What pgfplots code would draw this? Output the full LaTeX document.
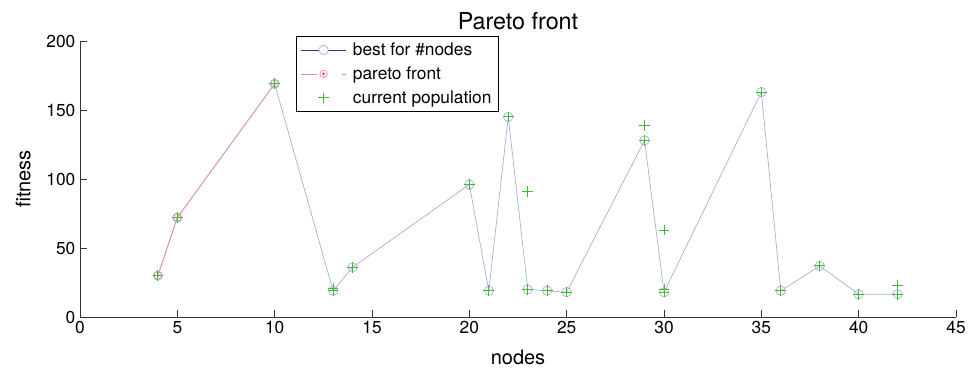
\documentclass[border=0pt]{standalone}
\usepackage{fontspec}
\setmainfont{TeX Gyre Heros}
\usepackage{pgfplots}
\pgfplotsset{compat=1.18}
\definecolor{bestc}{RGB}{165,170,220}
\definecolor{bestdark}{RGB}{40,50,140}
\definecolor{parc}{RGB}{230,140,150}
\definecolor{pardot}{RGB}{220,20,20}
\definecolor{popc}{RGB}{60,190,40}
\definecolor{axc}{RGB}{50,50,50}
\begin{document}
\begin{tikzpicture}[x=1pt,y=1pt]
\path[use as bounding box] (-60,-39.75) rectangle (673.5,237.75);
\begin{axis}[
  at={(0,0)}, anchor=south west,
  scale only axis, width=657pt, height=207pt,
  xmin=0, xmax=45, ymin=0, ymax=200,
  xtick={0,5,...,45}, ytick={0,50,...,200},
  axis x line*=bottom, axis y line*=left,
  axis line style={draw=axc, line width=0.6pt, -},
  tick align=inside, major tick length=5pt,
  tick style={draw=axc, line width=0.6pt},
  /pgf/number format/assume math mode=true,
  ticklabel style={font=\fontsize{13}{15}\selectfont},
  xlabel={nodes}, ylabel={fitness},
  label style={font=\fontsize{15}{18}\selectfont},
  xlabel style={yshift=-5pt},
  ylabel style={yshift=5pt},
  title={Pareto front},
  title style={font=\fontsize{17.5}{20}\selectfont, yshift=-1pt},
  legend style={at={(0.2466,1.018)}, anchor=north west, draw=black, line width=0.8pt,
    font=\fontsize{13}{16}\selectfont, row sep=3pt, inner xsep=3pt, inner ysep=2.5pt,
    cells={anchor=west}},
  legend cell align=left,
  clip=false,
]
\addplot[color=bestc, line width=0.5pt, mark=o, mark size=3.5pt, mark options={draw=bestc, line width=0.5pt},
  legend image code/.code={
    \draw[draw=bestdark, line width=0.6pt] (0,0) -- (34pt,0);
    \draw[draw=bestc, line width=0.5pt, fill=white] (17pt,0) circle (3.5pt);
    \path[draw=none] (0,0) -- (37pt,0);}]
coordinates {(4,30)(5,72)(10,169)(13,19)(14,36)(20,96)(21,19)(22,145)(23,20)(24,19)(25,18)(29,128)(30,18)(35,163)(36,19)(38,37)(40,16.5)(42,16.5)};
\addlegendentry{best for \#nodes}
\addplot[color=parc, line width=0.5pt, mark=o, mark size=2.8pt, mark options={draw=parc, line width=0.5pt},
  legend image code/.code={
    \draw[draw=parc, line width=0.6pt] (0,0) -- (12pt,0);
    \draw[draw=parc, line width=0.5pt, fill=white] (17pt,0) circle (2.8pt);
    \fill[fill=pardot] (17pt,0) circle (1pt);
    \draw[draw=parc, line width=0.5pt] (31pt,0) -- (34pt,0);
    \path[draw=none] (0,0) -- (37pt,0);}]
coordinates {(4,30)(5,72)(10,169)};
\addlegendentry{pareto front}
\addplot[only marks, color=pardot, mark=*, mark size=0.5pt, mark options={draw=pardot, fill=pardot}, forget plot]
coordinates {(4,30)(5,72)(10,169)};
\addplot[only marks, color=popc, mark=+, mark size=4pt, mark options={draw=popc, line width=0.7pt},
  legend image code/.code={
    \draw[draw=popc, line width=0.7pt] (17pt,-4pt) -- (17pt,4pt) (13pt,0) -- (21pt,0);
    \path[draw=none] (0,0) -- (37pt,0);}]
coordinates {(4,30)(5,72)(10,169)(13,19)(13,21)(14,36)(20,96)(21,19)(22,145)(23,20)(23,91)(24,19)(25,18)(29,128)(29,139)(30,18)(30,20)(30,63)(35,163)(36,19)(38,37)(40,16.5)(42,16.5)(42,23)};
\addlegendentry{current population}
\end{axis}
\end{tikzpicture}
\end{document}
